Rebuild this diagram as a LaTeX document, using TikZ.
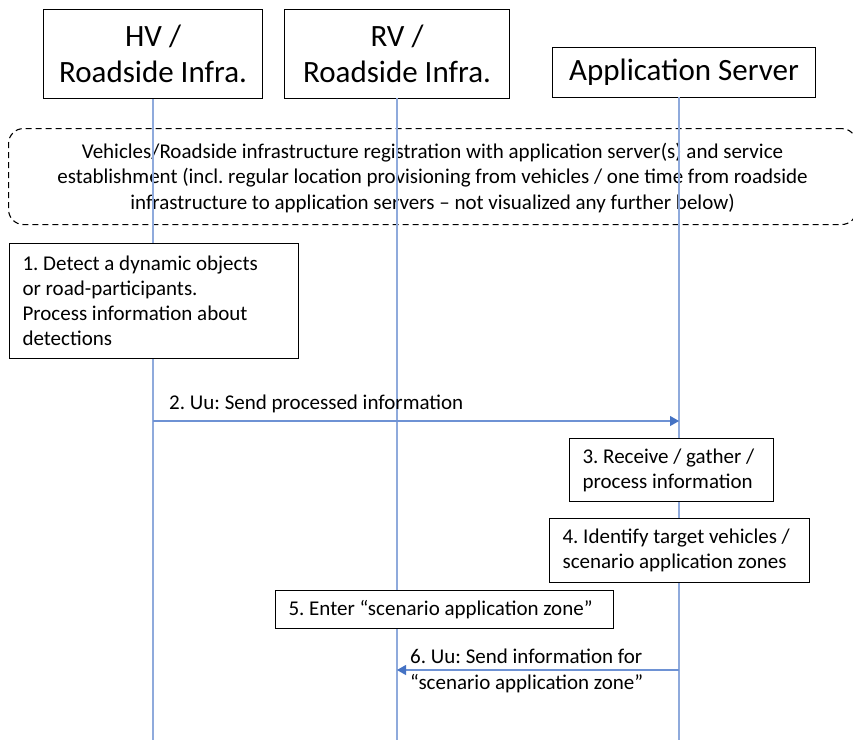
\documentclass[tikz,border=0pt]{standalone}
\usepackage{fontspec}
\setmainfont{Carlito}
\usetikzlibrary{arrows.meta}
\definecolor{lifeblue}{RGB}{143,170,220}
\definecolor{arrowblue}{RGB}{110,146,212}
\definecolor{tipblue}{RGB}{68,114,196}
\begin{document}
\frenchspacing
\begin{tikzpicture}[x=1pt,y=-1pt,
  titlebox/.style={draw=black,line width=1.1pt,fill=white,align=center,inner sep=0pt,
    font=\fontsize{31}{36}\selectfont},
  stepbox/.style={draw=black,line width=1.1pt,fill=white,align=flush left,inner xsep=13pt,inner ysep=0pt,
    anchor=north west,font=\fontsize{21}{25}\selectfont\frenchspacing},
  lifeline/.style={draw=lifeblue,line width=1.2pt},
  msg/.style={draw=arrowblue,line width=1.1pt,-{Triangle[length=9pt,width=10pt,fill=tipblue,color=tipblue]}},
  lbl/.style={inner sep=0pt,align=flush left,font=\fontsize{21}{26}\selectfont\frenchspacing}]
\useasboundingbox (0,0) rectangle (853,740);
\fill[white] (0,0) rectangle (853,740);

% registration box
\node[draw=black,line width=1.1pt,dashed,dash pattern=on 6pt off 4pt,rounded corners=15pt,
  minimum width=848pt,minimum height=96pt,anchor=north west,inner sep=0pt,align=center,
  font=\fontsize{21}{25.5}\selectfont\frenchspacing] (reg) at (8,128)
  {\strut Vehicles/Roadside infrastructure registration with application server(s) and service\\
   establishment (incl. regular location provisioning from vehicles / one time from roadside\\
   infrastructure to application servers -- not visualized any further below)};

% title boxes
\node[titlebox,minimum width=219pt,minimum height=89pt,anchor=north west] (hv) at (43,9) {HV /\\Roadside Infra.};
\node[titlebox,minimum width=225pt,minimum height=89pt,anchor=north west] (rv) at (284,9) {RV /\\Roadside Infra.};
\node[titlebox,minimum width=263pt,minimum height=50pt,anchor=north west] (as) at (552,47) {Application Server};

% lifelines
\coordinate (hvend) at (hv.south |- 0,740);
\coordinate (rvtop) at (397,98);
\coordinate (rvend) at (397,740);
\coordinate (astop) at (679,97);
\coordinate (asend) at (679,740);
\draw[lifeline] (hv.south) -- (hvend);
\draw[lifeline] (rvtop) -- (rvend);
\draw[lifeline] (astop) -- (asend);

% step boxes
\node[stepbox,text width=263pt,minimum height=115pt] (s1) at (9,243)
  {1. Detect a dynamic objects\\or road-participants.\\Process information about\\detections};
\node[stepbox,text width=178pt,minimum height=63pt] (s3) at (569,438)
  {3. Receive / gather /\\process information};
\node[stepbox,text width=234pt,minimum height=64pt] (s4) at (549,518)
  {4. Identify target vehicles /\\scenario application zones};
\node[stepbox,text width=312pt,minimum height=38pt] (s5) at (275,590)
  {5. Enter “scenario application zone”};

% messages
\coordinate (m2a) at (hv.south |- 0,421);
\coordinate (m2b) at (679,421);
\draw[msg] (m2a) -- (m2b);
\node[lbl,anchor=west] (l2) at (169,404) {2. Uu: Send processed information};

\coordinate (m6a) at (679,670);
\coordinate (m6b) at (397,670);
\draw[msg] (m6a) -- (m6b);
\node[lbl,anchor=west] (l6) at (410,671) {6. Uu: Send information for\\“scenario application zone”};
\end{tikzpicture}
\end{document}
